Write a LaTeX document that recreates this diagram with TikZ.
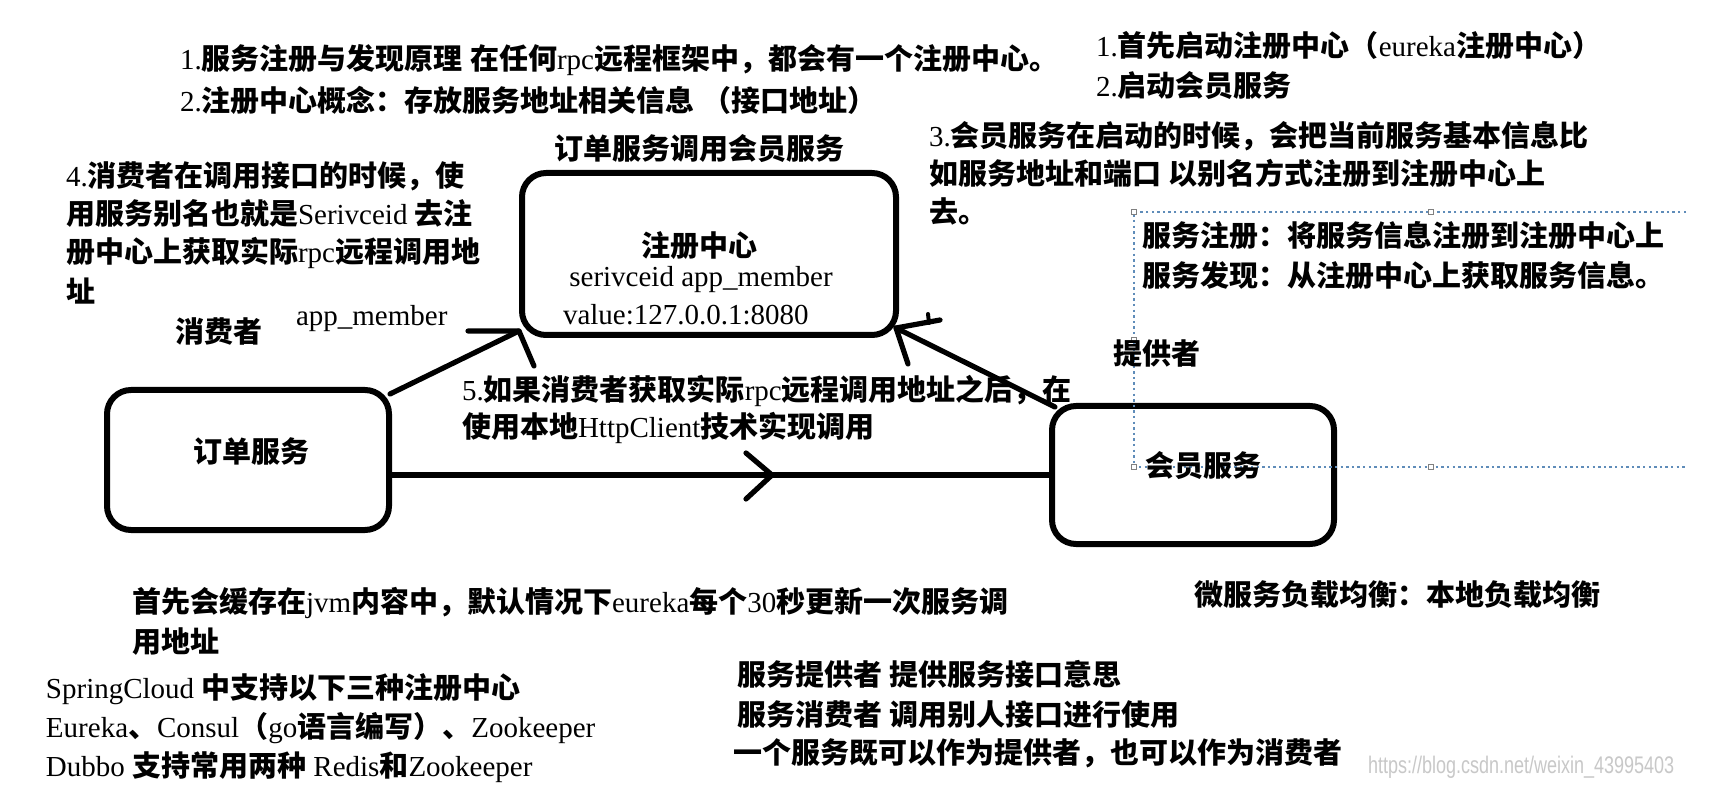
\documentclass[tikz,border=0pt]{standalone}
\usepackage{fontspec}
\setmainfont{Liberation Serif}
\newfontfamily\latinf{Liberation Serif}
\newfontfamily\cjkf{Noto Sans CJK SC}
\newfontfamily\wmfont{Liberation Sans}[FakeStretch=0.75]
\XeTeXinterchartokenstate=1
\newXeTeXintercharclass\cjkcls
\newcount\cjkc
\def\setcjkrange#1#2{\cjkc=#1\relax\loop\XeTeXcharclass\cjkc=\cjkcls\advance\cjkc by 1\relax\ifnum\cjkc<#2\relax\repeat}
\setcjkrange{"4E00}{"A000}
\setcjkrange{"3000}{"3040}
\setcjkrange{"FF00}{"FFF0}
\def\tozh{\cjkf\bfseries}
\def\toen{\latinf\mdseries}
\XeTeXinterchartoks 0 \cjkcls = {\tozh}
\XeTeXinterchartoks 4095 \cjkcls = {\tozh}
\XeTeXinterchartoks \cjkcls 0 = {\toen}
\XeTeXinterchartoks \cjkcls 4095 = {\toen}
\definecolor{selblue}{RGB}{95,140,185}
\definecolor{wmgray}{RGB}{200,200,200}
\begin{document}
\begin{tikzpicture}[x=0.5pt,y=-0.5pt,
  txt/.style={inner sep=0pt,outer sep=0pt,anchor=base west,font=\fontsize{14.5}{17}\selectfont},
  ctxt/.style={txt,anchor=base},
  box/.style={draw,line width=3pt,rounded corners=12pt,inner sep=0pt},
  conn/.style={line width=2.6pt,line cap=round,line join=round},
  sel/.style={draw=selblue,line width=0.7pt,dash pattern=on 1.2pt off 1.6pt},
  handle/.style={draw=gray,fill=white,line width=0.4pt,minimum size=2.6pt,inner sep=0pt}]
\fill[white] (0,0) rectangle (1728,806);
\useasboundingbox (0,0) rectangle (1728,806);

% boxes
\node[box,minimum width=187pt,minimum height=81pt] (reg) at (709,254) {};
\node[box,minimum width=141pt,minimum height=70pt] (order) at (248,460) {};
\node[box,minimum width=141pt,minimum height=69pt] (mem) at (1193,475) {};

% selection frame
\draw[sel] (1686,212) -- (1134,212) -- (1134,467) -- (1686,467);
\node[handle] (h1) at (1134,212) {};
\node[handle] (h2) at (1431,212) {};
\node[handle] (h3) at (1134,340) {};
\node[handle] (h4) at (1134,467) {};
\node[handle] (h5) at (1431,467) {};

% connectors
\draw[conn] ([shift={(-2,7)}]order.north east) -- ([shift={(0,-7)}]reg.south west);
\draw[conn] ([shift={(-51,-7)}]reg.south west) -- ([shift={(0,-7)}]reg.south west) -- ([shift={(15,28)}]reg.south west);
\draw[conn] ([shift={(6,4)}]mem.north west) -- ([shift={(-3,-10)}]reg.south east);
\draw[conn] ([shift={(41,-18)}]reg.south east) -- ([shift={(-3,-10)}]reg.south east) -- ([shift={(9,26)}]reg.south east);
\draw[conn,line width=2pt] ([shift={(29,-24)}]reg.south east) -- ([shift={(30,-15)}]reg.south east);
\draw[conn] (order.east |- mem.west) -- (mem.west);
\coordinate (chev) at (772,475);
\draw[conn] ([shift={(-26,-22)}]chev) -- (chev) -- ([shift={(-26,24)}]chev);

% texts
\node[txt] (l1) at (180,70) {1.服务注册与发现原理 在任何rpc远程框架中，都会有一个注册中心。};
\node[txt] (l2) at (180,112) {2.注册中心概念：存放服务地址相关信息 （接口地址）};
\node[txt] (r1) at (1096,57) {1.首先启动注册中心（eureka注册中心）};
\node[txt] (r2) at (1096,97) {2.启动会员服务};
\node[txt] (oc) at (554,160) {订单服务调用会员服务};
\node[txt] (r3a) at (929,147) {3.会员服务在启动的时候，会把当前服务基本信息比};
\node[txt] (r3b) at (929,185) {如服务地址和端口 以别名方式注册到注册中心上};
\node[txt] (r3c) at (929,223) {去。};
\node[txt] (l4a) at (66,187) {4.消费者在调用接口的时候，使};
\node[txt] (l4b) at (66,225) {用服务别名也就是Serivceid 去注};
\node[txt] (l4c) at (66,263) {册中心上获取实际rpc远程调用地};
\node[txt] (l4d) at (66,303) {址};
\node[ctxt] (rg1) at (699,257) {注册中心};
\node[ctxt] (rg2) at (701,287) {serivceid app\_member};
\node[txt] (rg3) at (563,325) {value:127.0.0.1:8080};
\node[txt] (cons) at (175,343) {消费者};
\node[txt] (appm) at (296,326) {app\_member};
\node[txt] (reg1) at (1142,247) {服务注册：将服务信息注册到注册中心上};
\node[txt] (reg2) at (1142,287) {服务发现：从注册中心上获取服务信息。};
\node[txt] (prov) at (1113,365) {提供者};
\node[ctxt] (ordt) at (251,463) {订单服务};
\node[txt] (memt) at (1145,477) {会员服务};
\node[txt] (s5a) at (462,401) {5.如果消费者获取实际rpc远程调用地址之后，在};
\node[txt] (s5b) at (462,438) {使用本地HttpClient技术实现调用};
\node[txt] (c1) at (132,612) {首先会缓存在jvm内容中，默认情况下eureka每个30秒更新一次服务调};
\node[txt] (c2) at (132,652) {用地址};
\node[txt] (lb) at (1194,605) {微服务负载均衡：本地负载均衡};
\node[txt] (sc1) at (46,698) {SpringCloud 中支持以下三种注册中心};
\node[txt] (sc2) at (46,737) {Eureka、Consul（go语言编写）、Zookeeper};
\node[txt] (sc3) at (46,776) {Dubbo 支持常用两种 Redis和Zookeeper};
\node[txt] (sp1) at (737,685) {服务提供者 提供服务接口意思};
\node[txt] (sp2) at (737,725) {服务消费者 调用别人接口进行使用};
\node[txt] (sp3) at (733,763) {一个服务既可以作为提供者，也可以作为消费者};
\node[txt,font=\wmfont\fontsize{12}{14}\selectfont,text=wmgray] (wm) at (1368,773) {https://blog.csdn.net/weixin\_43995403};
\end{tikzpicture}
\end{document}
